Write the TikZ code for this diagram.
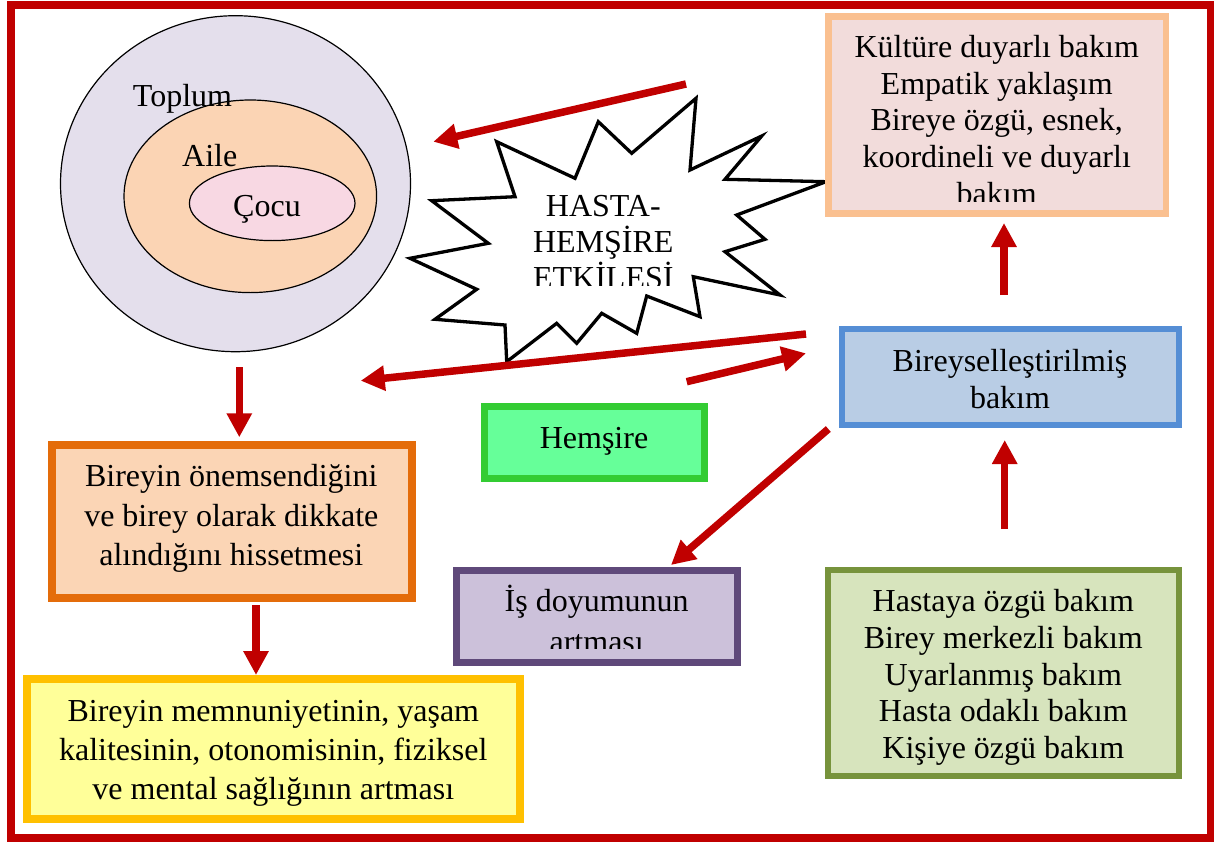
\documentclass[tikz,border=0pt]{standalone}
\usepackage{fontspec}
\setmainfont{Liberation Serif}
\usetikzlibrary{arrows.meta}
\definecolor{myred}{HTML}{C00000}
\definecolor{lavfill}{HTML}{E4DFEC}
\definecolor{ailefill}{HTML}{FBD4B4}
\definecolor{cocufill}{HTML}{F8D8E3}
\definecolor{kulfill}{HTML}{F2DCDB}
\definecolor{kulline}{HTML}{FAC090}
\definecolor{birfill}{HTML}{B9CDE5}
\definecolor{birline}{HTML}{558ED5}
\definecolor{grfill}{HTML}{D7E4BD}
\definecolor{grline}{HTML}{77933C}
\definecolor{hemfill}{HTML}{66FF99}
\definecolor{hemline}{HTML}{33CC33}
\definecolor{isfill}{HTML}{CCC1DA}
\definecolor{isline}{HTML}{5F497A}
\definecolor{orfill}{HTML}{FBD5B5}
\definecolor{orline}{HTML}{E46C0A}
\definecolor{yefill}{HTML}{FFFF99}
\definecolor{yeline}{HTML}{FFC000}
\newcommand\mystrut{\rule[-9pt]{0pt}{37pt}}
\tikzset{
  txt/.style={inner sep=0pt, align=center, anchor=north,
    font=\fontsize{32}{#1}\selectfont},
  txt/.default=36.7,
  lab/.style={inner sep=0pt, anchor=base, font=\fontsize{32}{36}\selectfont},
  boxnode/.style n args={3}{draw=#1, fill=#2, line width=#3, inner sep=0pt, rectangle},
  arr/.style={draw=myred, line width=7.5pt, -{Triangle[width=24pt,length=24pt]}},
  ring/.style={draw=black, line width=1.2pt}
}
\begin{document}
\lineskiplimit=-100pt
\begin{tikzpicture}[x=1pt,y=-1pt]
\useasboundingbox (0,0) rectangle (1214,843);
\fill[white] (0,0) rectangle (1214,843);
% frame
\draw[myred, line width=8pt] (10.5,5) rectangle (1210.5,838);

% nested circles
\draw[ring, fill=lavfill] (235.5,183.7) ellipse [x radius=175, y radius=168];
\draw[ring, fill=ailefill] (250.3,196.3) ellipse [x radius=126.3, y radius=96.3];
\draw[ring, fill=cocufill] (272.2,203.3) ellipse [x radius=82.8, y radius=37.3];
\node[lab] (toplum) at (182.5,106) {Toplum};
\node[lab] (aile) at (209.7,166.7) {Aile};
\node[lab] (cocu) at (267,216) {Çocu};

% starburst
\draw[line width=3.3pt, fill=white, line join=miter]
  (496.7,141.7) -- (575,178.3) -- (598.3,121.7) -- (631.7,153.3) -- (696,98.3)
  -- (690,170) -- (761.7,136) -- (725,179.3) -- (826,181.7) -- (736.7,215)
  -- (765,239.3) -- (725,251.7) -- (780,295) -- (693.3,276.7) -- (700,316.7)
  -- (646.7,296) -- (636.7,333.3) -- (601.7,313.3) -- (576.7,343.3) -- (556.7,323.3)
  -- (506.7,361.7) -- (505,325) -- (435,319.3) -- (476.7,289.3) -- (410,258.3)
  -- (488.3,243.3) -- (431.7,200.7) -- (515,196.7) -- cycle;
\begin{scope}
  \clip (430,180) rectangle (780,285);
  \node[txt=36] (star) at (603.3,188.7) {\mystrut HASTA-\\HEMŞİRE\\ETKİLESİ};
\end{scope}

% boxes
\node[boxnode={kulline}{kulfill}{6.7pt}, minimum width=337.6pt, minimum height=196.7pt] (kul) at (997.2,115) {};
\begin{scope}
  \clip (826,14) rectangle (1169,201.7);
  \node[txt=36.7] (kult) at (996.7,29.3) {\mystrut Kültüre duyarlı bakım\\Empatik yaklaşım\\Bireye özgü, esnek,\\koordineli ve duyarlı\\bakım};
\end{scope}

\node[boxnode={birline}{birfill}{6pt}, minimum width=337.3pt, minimum height=96pt] (bir) at (1010.7,376.7) {};
\node[txt=37.7] (birt) at (1010,343) {\mystrut Bireyselleştirilmiş\\bakım};

\node[boxnode={grline}{grfill}{6pt}, minimum width=351.3pt, minimum height=206pt] (gr) at (1003.7,673.3) {};
\node[txt=36.65] (grt) at (1003.3,583.7) {\mystrut Hastaya özgü bakım\\Birey merkezli bakım\\Uyarlanmış bakım\\Hasta odaklı bakım\\Kişiye özgü bakım};

\node[boxnode={hemline}{hemfill}{7pt}, minimum width=220.3pt, minimum height=71.4pt] (hem) at (594.7,442.5) {};
\node[txt] (hemt) at (594,420.3) {\mystrut Hemşire};

\node[boxnode={isline}{isfill}{7pt}, minimum width=280.7pt, minimum height=92.3pt] (is) at (597.2,616.4) {};
\begin{scope}
  \clip (455,570) rectangle (740,648);
  \node[txt=40.3] (ist) at (596.7,583.7) {\mystrut İş doyumunun\\artması};
\end{scope}

\node[boxnode={orline}{orfill}{8pt}, minimum width=359.4pt, minimum height=153.6pt] (or) at (232,521.5) {};
\node[txt=39.5] (ort) at (231.3,458.7) {\mystrut Bireyin önemsendiğini\\ve birey olarak dikkate\\alındığını hissetmesi};

\node[boxnode={yeline}{yefill}{8pt}, minimum width=493.3pt, minimum height=140.3pt] (ye) at (273.4,749.2) {};
\node[txt=38.8] (yet) at (273.3,693.7) {\mystrut Bireyin memnuniyetinin, yaşam\\kalitesinin, otonomisinin, fiziksel\\ve mental sağlığının artması};

% arrow end points
\coordinate (a1s) at (686,84);     \coordinate (a1e) at (433.3,141.7);
\coordinate (a2s) at (806,334);    \coordinate (a2e) at (360.7,380.7);
\coordinate (a3s) at (686.7,381.7);\coordinate (a3e) at (806,353.3);
\coordinate (a4s) at (828.3,429);  \coordinate (a4e) at (671,565);
\coordinate (a5s) at (1004,295);   \coordinate (a5e) at (1004,223);
\coordinate (a6s) at (1004.7,529); \coordinate (a6e) at (1004.7,440);
\coordinate (a7s) at (239.3,367.3);\coordinate (a7e) at (239.3,437.3);
\coordinate (a8s) at (256,605);    \coordinate (a8e) at (256,675);

\draw[arr] (a1s) -- (a1e);
\draw[arr] (a2s) -- (a2e);
\draw[arr] (a3s) -- (a3e);
\draw[arr] (a4s) -- (a4e);
\draw[arr] (a5s) -- (a5e);
\draw[arr] (a6s) -- (a6e);
\draw[arr] (a7s) -- (a7e);
\draw[arr] (a8s) -- (a8e);
\end{tikzpicture}
\end{document}
